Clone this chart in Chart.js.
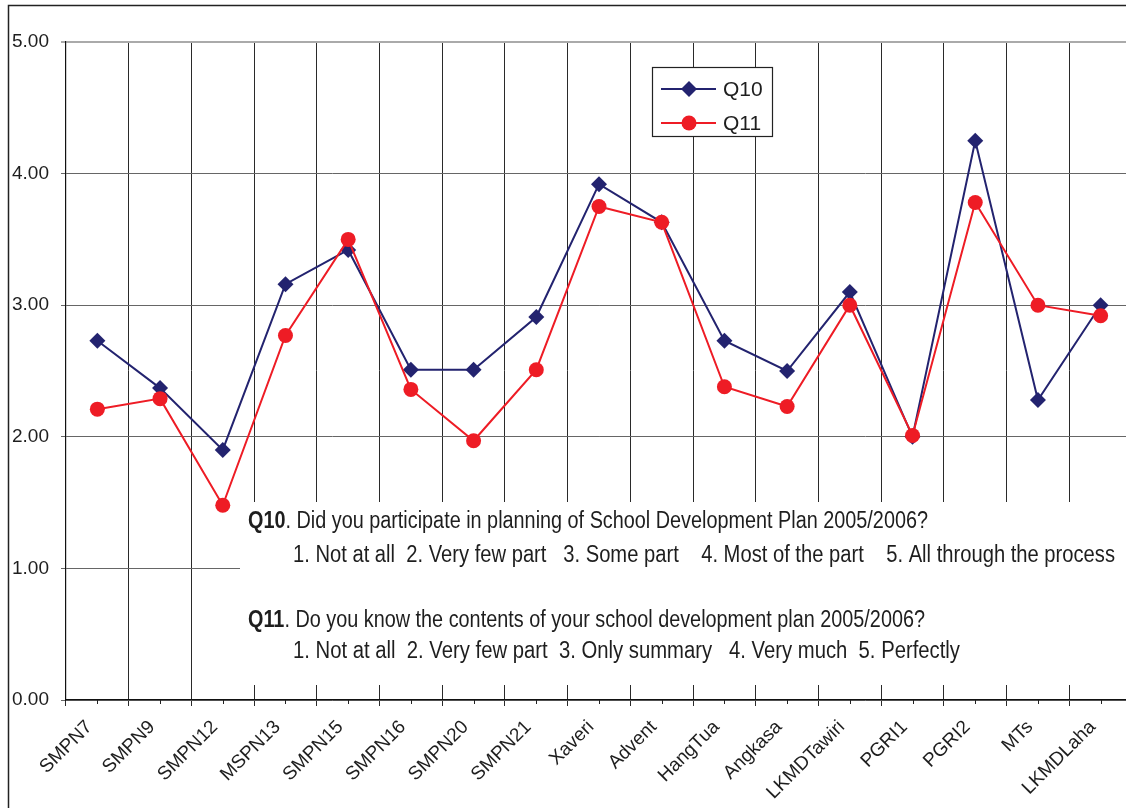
<!DOCTYPE html>
<html><head><meta charset="utf-8">
<script src="https://cdn.jsdelivr.net/npm/chart.js@4.4.0/dist/chart.umd.min.js"></script>
<style>html,body{margin:0;padding:0;overflow:hidden;background:#fff}#wrap{width:1126px;height:808px;overflow:hidden;position:relative}canvas{display:block}</style>
</head><body><div id="wrap"><canvas id="c" width="1140" height="808"></canvas></div>
<script>
const schools = ['SMPN7','SMPN9','SMPN12','MSPN13','SMPN15','SMPN16','SMPN20','SMPN21','Xaveri','Advent','HangTua','Angkasa','LKMDTawiri','PGRI1','PGRI2','MTs','LKMDLaha'];
const q10 = [2.73,2.37,1.90,3.16,3.42,2.51,2.51,2.91,3.92,3.63,2.73,2.50,3.10,2.00,4.25,2.28,3.00];
const q11 = [2.21,2.29,1.48,2.77,3.50,2.36,1.97,2.51,3.75,3.63,2.38,2.23,3.00,2.01,3.78,3.00,2.92];
const yTickValues = [0,1,2,3,4,5];
const seriesNames = ['Q10','Q11'];
const noteLines = [
  {bold:'Q10', text:'. Did you participate in planning of School Development Plan 2005/2006?', x:248, y:528, end:928},
  {bold:'', text:'1. Not at all  2. Very few part   3. Some part    4. Most of the part    5. All through the process', x:293, y:562, end:1115},
  {bold:'Q11', text:'. Do you know the contents of your school development plan 2005/2006?', x:248, y:627, end:925},
  {bold:'', text:'1. Not at all  2. Very few part  3. Only summary   4. Very much  5. Perfectly', x:293, y:658, end:960}
];
const NAVY = '#23236f', RED = '#ee1c25';
const FONT = "'Liberation Sans', Arial, sans-serif";

const overlay = {
  id:'overlay',
  beforeDatasetsDraw(chart){
    const ctx = chart.ctx;
    ctx.save();
    ctx.fillStyle = '#fff';
    ctx.fillRect(240, 502, 1000, 183);
    ctx.fillStyle = '#1e1e1e';
    ctx.textBaseline = 'alphabetic';
    ctx.textAlign = 'left';
    noteLines.forEach(l => {
      ctx.font = "bold 23px " + FONT;
      const bw = l.bold ? ctx.measureText(l.bold).width : 0;
      ctx.font = "23px " + FONT;
      const tw = ctx.measureText(l.text).width;
      const s = (l.end - l.x) / (bw + tw);
      ctx.save();
      ctx.translate(l.x, l.y);
      ctx.scale(s, 1);
      if (l.bold) { ctx.font = "bold 23px " + FONT; ctx.fillText(l.bold, 0, 0); }
      ctx.font = "23px " + FONT;
      ctx.fillText(l.text, bw, 0);
      ctx.restore();
    });
    // minor ticks at category centers
    const xs = chart.scales.x;
    ctx.strokeStyle = '#222'; ctx.lineWidth = 1;
    ctx.beginPath();
    schools.forEach((_, i) => {
      const px = Math.round(xs.getPixelForValue(i)) + 0.5;
      ctx.moveTo(px, xs.top); ctx.lineTo(px, xs.top + 4);
    });
    ctx.stroke();
    ctx.restore();
  },
  afterDraw(chart){
    const ctx = chart.ctx;
    ctx.save();
    // legend
    ctx.fillStyle = '#fff';
    ctx.fillRect(652, 67, 120, 69);
    ctx.strokeStyle = '#222'; ctx.lineWidth = 1.2;
    ctx.strokeRect(652.5, 67.5, 120, 69);
    const ys = [89, 123];
    chart.data.datasets.forEach((ds, i) => {
      const y = ys[i];
      ctx.strokeStyle = ds.borderColor; ctx.lineWidth = 2;
      ctx.beginPath(); ctx.moveTo(661, y); ctx.lineTo(716, y); ctx.stroke();
      ctx.fillStyle = ds.borderColor;
      ctx.beginPath();
      if (ds.pointStyle === 'rectRot') {
        ctx.moveTo(689, y - 8); ctx.lineTo(697, y); ctx.lineTo(689, y + 8); ctx.lineTo(681, y); ctx.closePath();
      } else {
        ctx.arc(689, y, 7.5, 0, Math.PI * 2);
      }
      ctx.fill();
      ctx.fillStyle = '#1e1e1e';
      ctx.font = "21px " + FONT;
      ctx.textBaseline = 'middle';
      ctx.fillText(ds.label, 723, y + 1);
    });
    // outer frame
    ctx.strokeStyle = '#222'; ctx.lineWidth = 1.5;
    ctx.beginPath();
    ctx.moveTo(8.5, 808); ctx.lineTo(8.5, 5.5); ctx.lineTo(1140, 5.5);
    ctx.stroke();
    ctx.restore();
  }
};

new Chart(document.getElementById('c'), {
  type:'line',
  data:{
    labels: schools,
    datasets:[
      {label:seriesNames[0], data:q10, borderColor:NAVY, backgroundColor:NAVY, borderWidth:2, pointStyle:'rectRot', pointRadius:8, pointBorderWidth:0, pointBackgroundColor:NAVY, tension:0, order:1},
      {label:seriesNames[1], data:q11, borderColor:RED, backgroundColor:RED, borderWidth:2, pointStyle:'circle', pointRadius:7.5, pointBorderWidth:0, pointBackgroundColor:RED, tension:0, order:0}
    ]
  },
  options:{
    responsive:false, animation:false, devicePixelRatio:1,
    layout:{padding:{left:12, top:42, right:7, bottom:0}},
    plugins:{legend:{display:false}, tooltip:{enabled:false}},
    scales:{
      x:{
        offset:true,
        grid:{display:true, offset:true, color:'#2a2a2a', lineWidth:1, tickLength:6, drawOnChartArea:true},
        border:{display:true, color:'#111', width:1.2},
        ticks:{autoSkip:false, maxRotation:45, minRotation:45, color:'#1e1e1e', font:{family:FONT, size:19}, padding:10, labelOffset:-8},
        afterFit(s){ s.height = 108; }
      },
      y:{
        min:0, max:5,
        afterBuildTicks(s){ s.ticks = yTickValues.map(v => ({value:v})); },
        grid:{color:(c)=> c.tick && c.tick.value === 5 ? '#aaa' : '#666', lineWidth:(c)=> c.tick && c.tick.value === 5 ? 2 : 1, tickLength:5},
        border:{display:true, color:'#111', width:1.2},
        ticks:{color:'#1e1e1e', font:{family:FONT, size:19}, crossAlign:'far', callback:(v)=>Number(v).toFixed(2)},
        afterFit(s){ s.width = 54; }
      }
    }
  },
  plugins:[overlay]
});
</script>
</body></html>
